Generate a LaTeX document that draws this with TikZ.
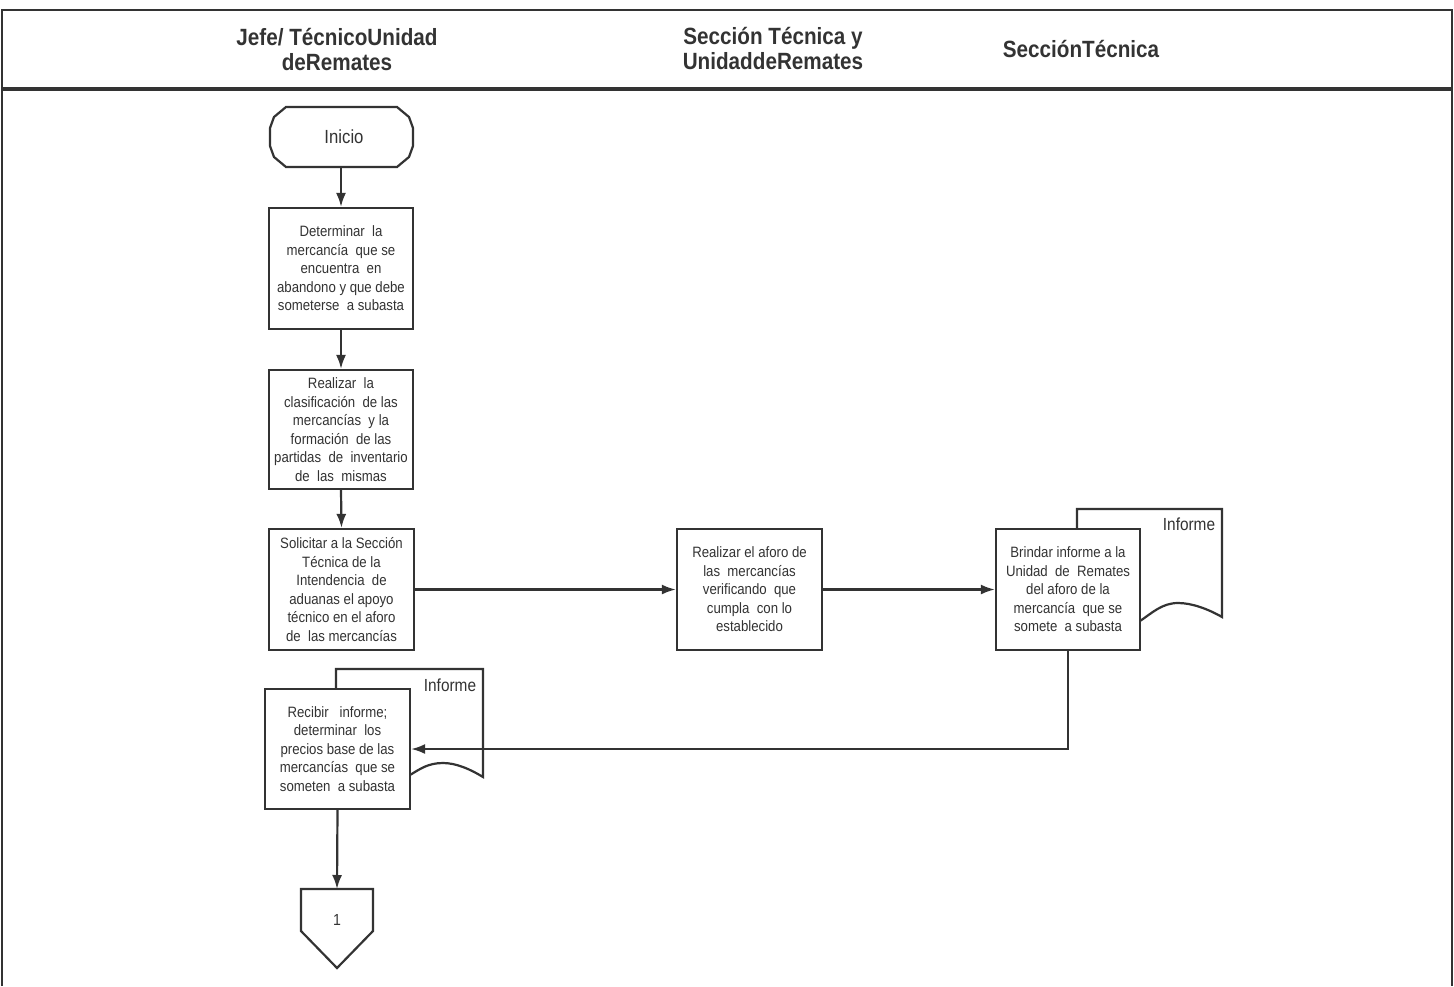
\documentclass[tikz,border=0pt]{standalone}
\usepackage{fontspec}
\setmainfont{Liberation Sans}
\newfontfamily\narrowfont[FakeStretch=0.88]{Liberation Sans}
\usetikzlibrary{arrows.meta}
\definecolor{ink}{HTML}{333333}
\tikzset{
  lane/.style={draw=ink, line width=2.4pt},
  head/.style={text=ink, font=\narrowfont\bfseries\fontsize{23.5}{25}\selectfont, align=center},
  proc/.style={draw=ink, fill=white, line width=2.2pt, minimum width=144pt, minimum height=120pt,
    text=ink, align=center, inner sep=1pt, font=\narrowfont\fontsize{15}{18.5}\selectfont},
  docshape/.style={draw=ink, fill=white, line width=2.2pt},
  arr/.style={draw=ink, line width=2.2pt, -{Latex[length=14pt,width=10pt]}},
  lbl/.style={text=ink, font=\narrowfont\fontsize{17.5}{18}\selectfont},
}
\begin{document}
\begin{tikzpicture}[x=1pt,y=-1pt]
\useasboundingbox (0,0) rectangle (1454,986);
% frame
\draw[lane] (2,986) -- (2,10) -- (1452,10) -- (1452,986);
\draw[ink, line width=3.2pt] (2,89) -- (1452,89);
% headers
\node[head] (h1) at (337,49) {Jefe/ TécnicoUnidad\\deRemates};
\node[head] (h2) at (773,48) {Sección Técnica y\\UnidaddeRemates};
\node[head] (h3) at (1081,49) {SecciónTécnica};
% start
\draw[ink, line width=2.2pt, fill=white]
  (286,107) -- (397,107) -- (409,117) -- (413,128) -- (413,146) -- (409,157) -- (397,167)
  -- (286,167) -- (274,157) -- (270,146) -- (270,128) -- (274,117) -- cycle;
\node[text=ink, font=\narrowfont\fontsize{19}{20}\selectfont] (start) at (344,137) {Inicio};
\coordinate (startbot) at (341,167);
% boxes
\node[proc, minimum height=121pt] (b1) at (341,268.5) {Determinar\ \ la\\mercancía\ \ que se\\encuentra\ \ en\\abandono y que debe\\someterse\ \ a subasta};
\node[proc, minimum height=119pt] (b2) at (341,429.5) {Realizar\ \ la\\clasificación\ \ de las\\mercancías\ \ y la\\formación\ \ de las\\partidas\ \ de\ \ inventario\\de\ \ las\ \ mismas};
\node[proc, minimum height=121pt, minimum width=145pt] (b3) at (341.5,589.5) {Solicitar a la Sección\\Técnica de la\\Intendencia\ \ de\\aduanas el apoyo\\técnico en el aforo\\de\ \ las mercancías};
\node[proc, minimum height=121pt, minimum width=145pt] (b4) at (749.5,589.5) {Realizar el aforo de\\las\ \ mercancías\\verificando\ \ que\\cumpla\ \ con lo\\establecido};
% document behind b5
\draw[docshape] (1077,640) -- (1077,509) -- (1222,509) -- (1222,617)
  .. controls (1208,609) and (1192,603) .. (1178,603)
  .. controls (1162,603) and (1152,613) .. (1140,621) -- (1100,640) -- cycle;
\node[lbl] (inf1) at (1189,524) {Informe};
\node[proc, minimum height=121pt] (b5) at (1068,589.5) {Brindar informe a la\\Unidad\ \ de\ \ Remates\\del aforo de la\\mercancía\ \ que se\\somete\ \ a subasta};
% document behind b6
\draw[docshape] (336,700) -- (336,669) -- (483,669) -- (483,777)
  .. controls (470,769) and (456,763) .. (443,763)
  .. controls (428,763) and (420,769) .. (410,775) -- (380,790) -- cycle;
\node[lbl] (inf2) at (450,685) {Informe};
\node[proc, minimum height=120pt, minimum width=145pt] (b6) at (337.5,749) {Recibir\ \ \ informe;\\determinar\ \ los\\precios base de las\\mercancías\ \ que se\\someten\ \ a subasta};
% off-page connector
\draw[ink, line width=2.2pt] (301,889) -- (373,889) -- (373,931) -- (337,968) -- (301,931) -- cycle;
\node[text=ink, font=\narrowfont\fontsize{16}{17}\selectfont] (c1) at (337,920) {1};
\coordinate (c1top) at (337,889);
% connectors
\draw[arr] (startbot) -- (b1.north);
\draw[arr] (b1.south) -- (b2.north);
\draw[arr] (b2.south) -- (b3.north);
\draw[arr] (b3.east) -- (b4.west);
\draw[arr] (b4.east) -- (b5.west);
\draw[arr] (b5.south) |- (b6.east);
\draw[arr] (b6.south) -- (c1top);
\end{tikzpicture}
\end{document}
